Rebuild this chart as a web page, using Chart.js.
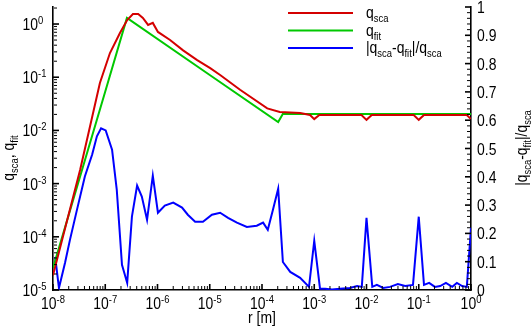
<!DOCTYPE html>
<html>
<head>
<meta charset="utf-8">
<script src="https://cdn.jsdelivr.net/npm/chart.js@4/dist/chart.umd.min.js"></script>
<style>
  body { margin: 0; background: #fff; }
  canvas { display: block; }
</style>
</head>
<body>
<canvas id="qsca-chart" width="532" height="330"></canvas>
<script>
// q_sca (left, log axis)
const rSca = [1.0e-8, 3.3e-8, 7.9e-8, 1.23e-7, 1.91e-7, 2.63e-7, 3.39e-7, 4.27e-7, 5.25e-7, 6.61e-7,
  8.13e-7, 1.02e-6, 1.74e-6, 3.09e-6, 5.75e-6, 1.02e-5, 1.58e-5, 3.8e-5, 1.26e-4, 2.19e-4,
  5.37e-4, 8.3e-4, 1.0e-3, 1.25e-3, 8.0e-3, 1.0e-2, 1.26e-2, 8.0e-2, 1.0e-1, 1.26e-1, 8.3e-1, 1.0];
const qSca = [1.9e-5, 1.8e-3, 0.078, 0.285, 0.68, 1.19, 1.54, 1.54, 1.30, 0.96,
  1.05, 0.71, 0.50, 0.32, 0.21, 0.148, 0.11, 0.058, 0.026, 0.0223,
  0.0213, 0.0195, 0.0163, 0.0195, 0.0195, 0.0158, 0.0195, 0.0195, 0.0158, 0.0195, 0.0195, 0.0163];

// q_fit (left, log axis)
const rFit = [1.0e-8, 1.0e-7, 2.6e-7, 1.0e-5, 2.04e-4, 2.5e-4, 1.0e-2, 1.0];
const qFit = [2.6e-5, 0.054, 1.3, 0.11, 0.0144, 0.0204, 0.0204, 0.0204];

// |q_sca - q_fit| / q_sca (right, linear axis)
const rErr = [1.10e-8, 1.30e-8, 1.70e-8, 2.11e-8, 2.88e-8, 4.07e-8, 5.62e-8, 6.92e-8, 8.32e-8, 1.02e-7,
  1.35e-7, 1.66e-7, 2.09e-7, 2.63e-7, 3.24e-7, 4.07e-7, 5.01e-7, 6.31e-7, 8.13e-7, 1.02e-6,
  1.38e-6, 2.00e-6, 2.95e-6, 3.80e-6, 5.25e-6, 7.41e-6, 1.10e-5, 1.58e-5, 2.24e-5, 3.31e-5,
  5.13e-5, 7.94e-5, 1.05e-4, 1.29e-4, 1.62e-4, 2.04e-4, 2.51e-4, 3.47e-4, 5.37e-4, 7.94e-4,
  1.0e-3, 1.29e-3, 1.62e-3, 2.19e-3, 3.09e-3, 4.79e-3, 6.61e-3, 8.13e-3, 1.0e-2, 1.29e-2,
  1.58e-2, 2.09e-2, 2.82e-2, 3.98e-2, 5.50e-2, 7.76e-2, 1.0e-1, 1.26e-1, 1.58e-1, 2.04e-1,
  2.57e-1, 3.31e-1, 4.37e-1, 5.37e-1, 6.76e-1, 8.32e-1, 1.0];
const errRel = [0.117, 0.007, 0.096, 0.177, 0.284, 0.401, 0.479, 0.543, 0.571, 0.564,
  0.496, 0.355, 0.089, 0.025, 0.259, 0.369, 0.330, 0.248, 0.404, 0.273,
  0.298, 0.309, 0.291, 0.266, 0.241, 0.241, 0.266, 0.273, 0.255, 0.238,
  0.223, 0.227, 0.238, 0.213, 0.284, 0.358, 0.099, 0.064, 0.043, 0.011,
  0.174, 0.004, 0.004, 0.002, 0.004, 0.007, 0.014, 0.011, 0.255, 0.011,
  0.018, 0.007, 0.011, 0.021, 0.014, 0.018, 0.259, 0.018, 0.025, 0.011,
  0.014, 0.025, 0.011, 0.025, 0.014, 0.011, 0.22];

const xDecades = [-8, -7, -6, -5, -4, -3, -2, -1, 0];
const yDecades = [-5, -4, -3, -2, -1, 0];
const y2Ticks = ['0', '0.1', '0.2', '0.3', '0.4', '0.5', '0.6', '0.7', '0.8', '0.9', '1'];

const colSca = '#d40000', colFit = '#00c800', colErr = '#0000ff';

function pts(xs, ys) {
  return xs.map((x, i) => ({ x: x, y: ys[i] }));
}

const FONT = '"Liberation Sans", Arial, sans-serif';
const SX = 0.82;

// draw text made of normal / sub / sup pieces
function rich(ctx, parts, x, y, align, rot) {
  ctx.save();
  ctx.translate(x, y);
  if (rot) ctx.rotate(rot);
  ctx.scale(SX, 1);
  ctx.fillStyle = '#000';
  ctx.textBaseline = 'alphabetic';
  const fnt = p => (p[1] ? 11.5 : 17) + 'px ' + FONT;
  let w = 0;
  parts.forEach(p => { ctx.font = fnt(p); w += ctx.measureText(p[0]).width; });
  let cx = align === 'center' ? -w / 2 : align === 'right' ? -w : 0;
  parts.forEach(p => {
    ctx.font = fnt(p);
    const dy = p[1] === 'sub' ? 4 : p[1] === 'sup' ? -6 : 0;
    ctx.fillText(p[0], cx, dy);
    cx += ctx.measureText(p[0]).width;
  });
  ctx.restore();
}

const decor = {
  id: 'decor',
  afterDraw(chart) {
    const ctx = chart.ctx;
    const xs = chart.scales.x, ys = chart.scales.y, y2 = chart.scales.y2;
    const a = chart.chartArea;
    ctx.save();
    ctx.strokeStyle = '#000';

    function tick(x1, y1, x2, y2_, w) {
      ctx.lineWidth = w;
      ctx.beginPath(); ctx.moveTo(x1, y1); ctx.lineTo(x2, y2_); ctx.stroke();
    }
    // bottom log ticks (inward)
    xDecades.forEach(d => {
      const px = xs.getPixelForValue(Math.pow(10, d));
      tick(px, a.bottom, px, a.bottom - 6, 1.6);
      if (d < 0) for (let m = 2; m <= 9; m++) {
        const mx = xs.getPixelForValue(m * Math.pow(10, d));
        tick(mx, a.bottom - 1, mx, a.bottom - 4, 1);
      }
    });
    // left log ticks
    yDecades.forEach(d => {
      const py = ys.getPixelForValue(Math.pow(10, d));
      tick(a.left, py, a.left + 6, py, 1.6);
      for (let m = 2; m <= 9; m++) {
        const v = m * Math.pow(10, d);
        if (v > ys.max) break;
        const my = ys.getPixelForValue(v);
        tick(a.left + 1, my, a.left + 4, my, 1);
      }
    });
    // right linear ticks
    for (let i = 0; i <= 50; i++) {
      const py = y2.getPixelForValue(i / 50);
      if (i % 5 === 0) tick(a.right, py, a.right - 6, py, 1.6);
      else tick(a.right - 1, py, a.right - 4, py, 1);
    }

    // tick labels
    xDecades.forEach(d => {
      const px = xs.getPixelForValue(Math.pow(10, d));
      const e = d === 0 ? '0' : '-' + (-d);
      rich(ctx, [['10'], [e, 'sup']], px, a.bottom + 19, 'center');
    });
    yDecades.forEach(d => {
      const py = ys.getPixelForValue(Math.pow(10, d));
      const e = d === 0 ? '0' : '-' + (-d);
      rich(ctx, [['10']], 38, py + 6, 'right');
      rich(ctx, [[e, 'sup']], 38, py + 6, 'left');
    });
    y2Ticks.forEach(t => {
      const py = y2.getPixelForValue(parseFloat(t));
      rich(ctx, [[t]], a.right + 6, py + 6, 'left');
    });

    // axis titles
    rich(ctx, [['r [m]']], (a.left + a.right) / 2, 323, 'center');
    rich(ctx, [['q'], ['sca', 'sub'], [', q'], ['fit', 'sub']], 14, 158, 'center', -Math.PI / 2);
    rich(ctx, [['|q'], ['sca', 'sub'], ['-q'], ['fit', 'sub'], ['|/q'], ['sca', 'sub']],
      527, 148, 'center', -Math.PI / 2);

    // legend
    const rows = [
      [colSca, [['q'], ['sca', 'sub']]],
      [colFit, [['q'], ['fit', 'sub']]],
      [colErr, [['|q'], ['sca', 'sub'], ['-q'], ['fit', 'sub'], ['|/q'], ['sca', 'sub']]]
    ];
    rows.forEach((r, i) => {
      const ly = 13 + i * 17.5;
      ctx.strokeStyle = r[0];
      tick(288, ly, 353, ly, 2);
      rich(ctx, r[1], 366, ly + 5, 'left');
    });
    ctx.restore();
  }
};

const lineDs = (label, data, color, axis) => ({
  label: label,
  data: data,
  yAxisID: axis,
  showLine: true,
  borderColor: color,
  backgroundColor: color,
  borderWidth: 2,
  pointRadius: 0,
  tension: 0
});

new Chart(document.getElementById('qsca-chart'), {
  type: 'scatter',
  data: {
    datasets: [
      lineDs('q_sca', pts(rSca, qSca), colSca, 'y'),
      lineDs('q_fit', pts(rFit, qFit), colFit, 'y'),
      lineDs('|q_sca-q_fit|/q_sca', pts(rErr, errRel), colErr, 'y2')
    ]
  },
  options: {
    responsive: false,
    animation: false,
    devicePixelRatio: 1,
    layout: { padding: { top: 7, left: 0, right: 0, bottom: 0 } },
    plugins: { legend: { display: false }, tooltip: { enabled: false } },
    scales: {
      x: {
        type: 'logarithmic', position: 'bottom', min: 1e-8, max: 1,
        grid: { display: false, drawTicks: false },
        border: { display: true, color: '#000', width: 1.6 },
        ticks: { display: false },
        afterFit: s => { s.height = 40; }
      },
      y: {
        type: 'logarithmic', position: 'left', min: 1e-5, max: 2.09,
        grid: { display: false, drawTicks: false },
        border: { display: true, color: '#000', width: 1.6 },
        ticks: { display: false },
        afterFit: s => { s.width = 53; }
      },
      y2: {
        type: 'linear', position: 'right', min: 0, max: 1,
        grid: { display: false, drawTicks: false },
        border: { display: true, color: '#000', width: 1.6 },
        ticks: { display: false },
        afterFit: s => { s.width = 61; }
      }
    }
  },
  plugins: [decor]
});
</script>
</body>
</html>
